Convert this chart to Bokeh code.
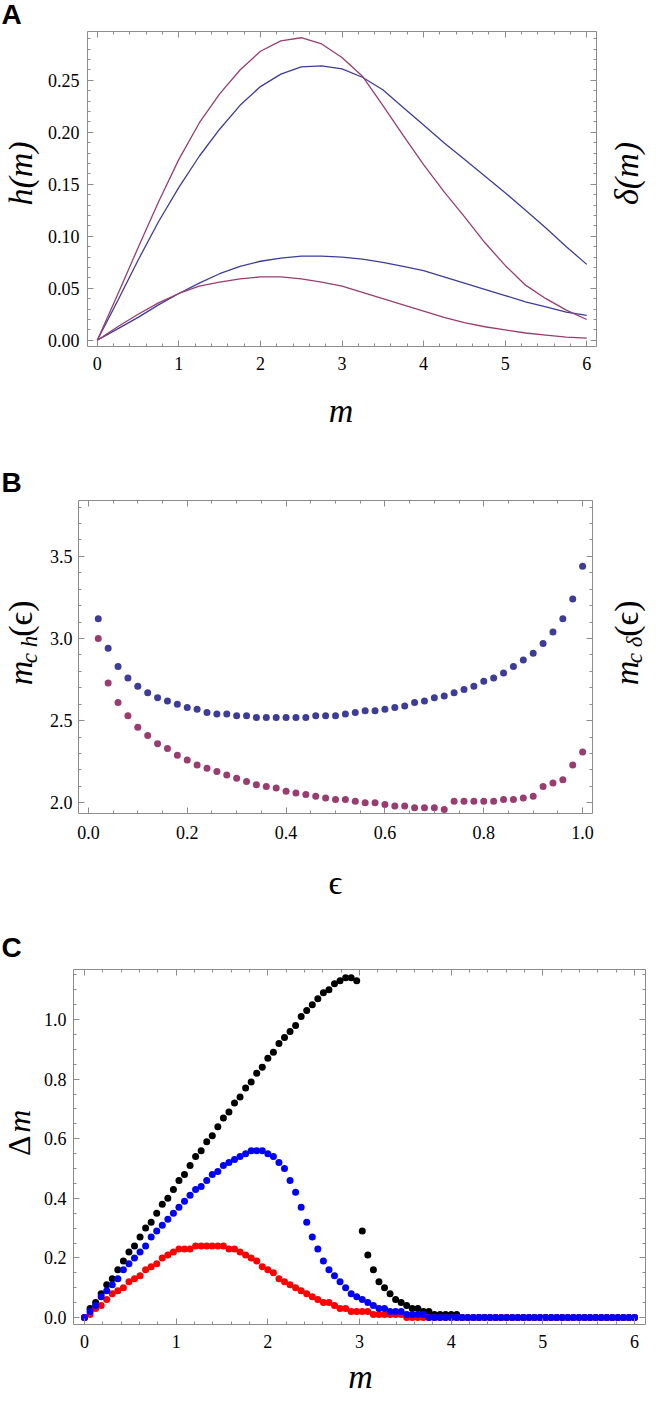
import numpy as np
from bokeh.plotting import figure
from bokeh.models import (Range1d, LinearAxis, FixedTicker,
                          NumeralTickFormatter, CustomJSTickFormatter)
from bokeh.layouts import column, row
from bokeh.core.properties import value
from bokeh.embed import file_html
from bokeh.resources import INLINE

SERIF = "Liberation Serif"
SANS = "Liberation Sans"
FRAME = "#8c8c8c"
TICK_PX = "18px"
BLUE_M = "#3d3d99"
PURPLE_M = "#993d71"

# ---------------- Panel A: h(m) and delta(m) curves ----------------
M_A = [0.0, 0.25, 0.5, 0.75, 1.0, 1.25, 1.5, 1.75, 2.0, 2.25, 2.5, 2.75, 3.0,
       3.25, 3.5, 3.75, 4.0, 4.25, 4.5, 4.75, 5.0, 5.25, 5.5, 5.75, 6.0]
A_PURPLE_HIGH = [0.000, 0.044, 0.089, 0.133, 0.174, 0.209, 0.237, 0.260, 0.278, 0.288,
                 0.291, 0.285, 0.272, 0.254, 0.226, 0.197, 0.169, 0.143, 0.119, 0.094,
                 0.072, 0.053, 0.040, 0.029, 0.020]
A_BLUE_HIGH = [0.000, 0.038, 0.077, 0.114, 0.147, 0.177, 0.203, 0.226, 0.244, 0.256,
               0.263, 0.264, 0.261, 0.253, 0.241, 0.224, 0.207, 0.190, 0.174, 0.158,
               0.142, 0.125, 0.108, 0.090, 0.073]
A_BLUE_LOW = [0.000, 0.011, 0.022, 0.034, 0.045, 0.055, 0.064, 0.071, 0.076, 0.079,
              0.081, 0.081, 0.080, 0.078, 0.075, 0.071, 0.067, 0.061, 0.055, 0.049,
              0.043, 0.037, 0.032, 0.027, 0.024]
A_PURPLE_LOW = [0.000, 0.013, 0.025, 0.036, 0.045, 0.052, 0.056, 0.059, 0.061, 0.061,
                0.059, 0.056, 0.052, 0.046, 0.040, 0.034, 0.028, 0.022, 0.017, 0.013,
                0.010, 0.007, 0.005, 0.003, 0.002]

# ---------------- Panel B: m_c(eps) ----------------
EPS = np.round(np.arange(1, 51) * 0.02, 2)
B_BLUE = [3.12, 2.94, 2.83, 2.76, 2.71, 2.67, 2.64, 2.62, 2.60, 2.58,
          2.57, 2.55, 2.54, 2.54, 2.53, 2.53, 2.52, 2.52, 2.52, 2.52,
          2.52, 2.52, 2.53, 2.53, 2.53, 2.54, 2.55, 2.56, 2.56, 2.57,
          2.58, 2.59, 2.61, 2.62, 2.64, 2.65, 2.67, 2.69, 2.71, 2.74,
          2.76, 2.79, 2.83, 2.87, 2.91, 2.97, 3.04, 3.12, 3.24, 3.44]
B_PURPLE = [3.00, 2.73, 2.61, 2.53, 2.46, 2.41, 2.36, 2.33, 2.29, 2.26,
            2.23, 2.21, 2.19, 2.17, 2.15, 2.13, 2.11, 2.10, 2.09, 2.07,
            2.06, 2.05, 2.04, 2.03, 2.02, 2.02, 2.01, 2.00, 2.00, 1.99,
            1.98, 1.98, 1.97, 1.97, 1.97, 1.96, 2.01, 2.01, 2.01, 2.01,
            2.01, 2.02, 2.02, 2.03, 2.04, 2.10, 2.12, 2.14, 2.23, 2.31]

# ---------------- Panel C: Delta m ----------------
M_C = np.linspace(0.0, 6.0, 100)
C_BLACK = [0.00, 0.03, 0.05, 0.08, 0.11, 0.13, 0.16, 0.19, 0.22, 0.24,
           0.27, 0.30, 0.32, 0.35, 0.38, 0.40, 0.43, 0.46, 0.48, 0.51,
           0.54, 0.56, 0.59, 0.61, 0.64, 0.67, 0.69, 0.72, 0.74, 0.77,
           0.79, 0.82, 0.84, 0.87, 0.89, 0.92, 0.94, 0.96, 0.98, 1.01,
           1.03, 1.05, 1.07, 1.09, 1.10, 1.12, 1.13, 1.14, 1.14, 1.13,
           0.29, 0.21, 0.16, 0.12, 0.10, 0.08, 0.06, 0.05, 0.04, 0.03,
           0.03, 0.02, 0.02, 0.01, 0.01, 0.01, 0.01, 0.01, 0.00, 0.00,
           0.00, 0.00, 0.00, 0.00, 0.00, 0.00, 0.00, 0.00, 0.00, 0.00,
           0.00, 0.00, 0.00, 0.00, 0.00, 0.00, 0.00, 0.00, 0.00, 0.00,
           0.00, 0.00, 0.00, 0.00, 0.00, 0.00, 0.00, 0.00, 0.00, 0.00]
C_BLUE = [0.00, 0.02, 0.04, 0.07, 0.09, 0.11, 0.13, 0.16, 0.18, 0.20,
          0.22, 0.24, 0.27, 0.29, 0.31, 0.33, 0.35, 0.37, 0.39, 0.41,
          0.43, 0.44, 0.46, 0.48, 0.49, 0.51, 0.52, 0.53, 0.54, 0.55,
          0.56, 0.56, 0.56, 0.55, 0.54, 0.52, 0.50, 0.46, 0.42, 0.37,
          0.32, 0.27, 0.23, 0.19, 0.16, 0.14, 0.12, 0.10, 0.08, 0.07,
          0.06, 0.05, 0.04, 0.03, 0.03, 0.02, 0.02, 0.02, 0.01, 0.01,
          0.01, 0.01, 0.00, 0.00, 0.00, 0.00, 0.00, 0.00, 0.00, 0.00,
          0.00, 0.00, 0.00, 0.00, 0.00, 0.00, 0.00, 0.00, 0.00, 0.00,
          0.00, 0.00, 0.00, 0.00, 0.00, 0.00, 0.00, 0.00, 0.00, 0.00,
          0.00, 0.00, 0.00, 0.00, 0.00, 0.00, 0.00, 0.00, 0.00, 0.00]
C_RED = [0.00, 0.01, 0.03, 0.04, 0.06, 0.08, 0.09, 0.10, 0.12, 0.13,
         0.14, 0.16, 0.17, 0.18, 0.20, 0.21, 0.22, 0.23, 0.23, 0.23,
         0.24, 0.24, 0.24, 0.24, 0.24, 0.24, 0.23, 0.23, 0.22, 0.21,
         0.20, 0.19, 0.17, 0.16, 0.15, 0.13, 0.12, 0.11, 0.10, 0.09,
         0.08, 0.07, 0.06, 0.05, 0.05, 0.04, 0.03, 0.03, 0.02, 0.02,
         0.02, 0.02, 0.01, 0.01, 0.01, 0.01, 0.01, 0.01, 0.00, 0.00,
         0.00, 0.00, 0.00, 0.00, 0.00, 0.00, 0.00, 0.00, 0.00, 0.00,
         0.00, 0.00, 0.00, 0.00, 0.00, 0.00, 0.00, 0.00, 0.00, 0.00,
         0.00, 0.00, 0.00, 0.00, 0.00, 0.00, 0.00, 0.00, 0.00, 0.00,
         0.00, 0.00, 0.00, 0.00, 0.00, 0.00, 0.00, 0.00, 0.00, 0.00]

# ---------------- ticks ----------------
A_XMAJ = [0, 1, 2, 3, 4, 5, 6]
A_XMIN = [round(0.2 * i, 1) for i in range(31) if i % 5]
A_YMAJ = [0.0, 0.05, 0.1, 0.15, 0.2, 0.25]
A_YMIN = [round(0.01 * i, 2) for i in range(30) if i % 5]
B_XMAJ = [0.0, 0.2, 0.4, 0.6, 0.8, 1.0]
B_XMIN = [round(0.05 * i, 2) for i in range(21) if i % 4]
B_YMAJ = [2.0, 2.5, 3.0, 3.5]
B_YMIN = [round(2.0 + 0.1 * i, 1) for i in range(1, 19) if i % 5]
C_XMAJ = A_XMAJ
C_XMIN = A_XMIN
C_YMAJ = [0.0, 0.2, 0.4, 0.6, 0.8, 1.0]
C_YMIN = [round(0.05 * i, 2) for i in range(24) if i % 4]


def style_axis(ax):
    ax.axis_line_color = None
    ax.major_tick_line_color = FRAME
    ax.minor_tick_line_color = FRAME
    ax.major_tick_in = 6
    ax.major_tick_out = 0
    ax.minor_tick_in = 3
    ax.minor_tick_out = 0
    ax.major_label_text_font = SERIF
    ax.major_label_text_font_size = TICK_PX
    ax.major_label_text_color = "black"


def make_fig(xr, yr, w, h, left, right, top, bottom):
    p = figure(width=w, height=h, x_range=Range1d(*xr), y_range=Range1d(*yr),
               output_backend="svg", toolbar_location=None,
               min_border_left=left, min_border_right=right,
               min_border_top=top, min_border_bottom=bottom)
    p.title.visible = False
    p.grid.visible = False
    p.outline_line_color = FRAME
    p.outline_line_width = 1
    p.background_fill_color = "white"
    p.border_fill_color = "white"
    return p


def frame_axes(p, xmaj, xmin, ymaj, ymin, xfmt, yfmt, xst, yst):
    xa = p.xaxis[0]
    ya = p.yaxis[0]
    for ax, maj, mnr, fmt, st in ((xa, xmaj, xmin, xfmt, xst), (ya, ymaj, ymin, yfmt, yst)):
        ax.ticker = FixedTicker(ticks=maj, minor_ticks=mnr)
        ax.formatter = NumeralTickFormatter(format=fmt)
        style_axis(ax)
        ax.major_label_standoff = st
    blank = "return ''"
    top = LinearAxis(ticker=FixedTicker(ticks=xmaj, minor_ticks=xmin),
                     formatter=CustomJSTickFormatter(code=blank))
    right = LinearAxis(ticker=FixedTicker(ticks=ymaj, minor_ticks=ymin),
                       formatter=CustomJSTickFormatter(code=blank))
    for ax in (top, right):
        style_axis(ax)
        ax.major_label_standoff = 0
        ax.major_label_text_font_size = "1px"
    p.add_layout(top, "above")
    p.add_layout(right, "right")


def strip(w, h):
    s = figure(width=w, height=h, x_range=Range1d(0, w), y_range=Range1d(0, h),
               output_backend="svg", toolbar_location=None, min_border=0,
               x_axis_location=None, y_axis_location=None)
    s.title.visible = False
    s.grid.visible = False
    s.outline_line_color = None
    s.background_fill_color = "white"
    s.border_fill_color = "white"
    return s


def txt(s, x, y, t, size, font=SERIF, style="normal", angle=0.0,
        align="center", baseline="middle"):
    s.text(x=[x], y=[y], text=[t], angle=angle, text_font=value(font),
           text_font_size=f"{size}px", text_font_style=style,
           text_align=align, text_baseline=baseline, text_color="black")


def vcomp(s, xc, yc, pieces):
    """Vertical (reading upward) label made of pieces: (text, size, style, length, dx)."""
    total = sum(pc[3] for pc in pieces)
    y = yc - total / 2.0
    for t, size, style, length, dx in pieces:
        txt(s, xc + dx, y, t, size, style=style, angle=np.pi / 2,
            align="left", baseline="middle")
        y += length


W = 648
RW = 44  # right text strip width (rows A and B)

# ================= Panel A =================
LA, HA = 44, 355
aT = strip(W, 29)
txt(aT, 1, 15.5, "A", 28, font=SANS, style="bold", align="left")
pA = make_fig((-0.12, 6.12), (-0.006, 0.297), W - LA - RW, HA, 41, 8, 2, 38)
frame_axes(pA, A_XMAJ, A_XMIN, A_YMAJ, A_YMIN, "0", "0.00", 10, 8)
pA.line(M_A, A_BLUE_HIGH, line_color=BLUE_M, line_width=1.3)
pA.line(M_A, A_BLUE_LOW, line_color=BLUE_M, line_width=1.3)
pA.line(M_A, A_PURPLE_HIGH, line_color=PURPLE_M, line_width=1.3)
pA.line(M_A, A_PURPLE_LOW, line_color=PURPLE_M, line_width=1.3)
aL = strip(LA, HA)
txt(aL, 20, 195, "h(m)", 34, style="italic", angle=np.pi / 2)
aR = strip(RW, HA)
txt(aR, 22, 195, "\u03b4(m)", 34, style="italic", angle=np.pi / 2)
aB = strip(W, 73)
txt(aB, 340.5, 47, "m", 34, style="italic")

# ================= Panel B =================
LB, HB = 46, 355
bT = strip(W, 41)
txt(bT, 1, 16, "B", 28, font=SANS, style="bold", align="left")
pB = make_fig((-0.02, 1.02), (1.935, 3.84), W - LB - RW, HB, 32, 12, 2, 40)
frame_axes(pB, B_XMAJ, B_XMIN, B_YMAJ, B_YMIN, "0.0", "0.0", 12, 6)
pB.scatter(EPS, B_BLUE, size=7, marker="circle", fill_color=BLUE_M, line_color=None)
pB.scatter(EPS, B_PURPLE, size=7, marker="circle", fill_color=PURPLE_M, line_color=None)
bL = strip(LB, HB)
vcomp(bL, 20, 193, [("m", 34, "italic", 25, 0), ("c h", 23, "italic", 30, 9),
                    ("(\u03f5)", 34, "normal", 40, 0)])
bR = strip(RW, HB)
vcomp(bR, 22, 193, [("m", 34, "italic", 25, 0), ("c \u03b4", 23, "italic", 30, 8),
                    ("(\u03f5)", 34, "normal", 40, 0)])
bB = strip(W, 69)
txt(bB, 335, 40, "\u03f5", 34)

# ================= Panel C =================
LC, HC = 40, 389
cT = strip(W, 45)
txt(cT, 1, 20, "C", 28, font=SANS, style="bold", align="left")
pC = make_fig((-0.12, 6.12), (-0.0235, 1.168), W - LC, HC, 33, 3, 2, 32)
frame_axes(pC, C_XMAJ, C_XMIN, C_YMAJ, C_YMIN, "0", "0.0", 10, 7)
pC.scatter(M_C, C_BLACK, size=7, marker="circle", fill_color="black", line_color=None)
pC.scatter(M_C, C_RED, size=7, marker="circle", fill_color="#ff0000", line_color=None)
pC.scatter(M_C, C_BLUE, size=7, marker="circle", fill_color="#0000ff", line_color=None)
cL = strip(LC, HC)
txt(cL, 18, 184.75, "\u0394", 32, angle=np.pi / 2, align="left")
txt(cL, 18, 210.25, "m", 32, style="italic", angle=np.pi / 2, align="left")
cB = strip(W, 39)
txt(cB, 360, 1, "m", 34, style="italic", baseline="bottom")

layout = column(aT, row(aL, pA, aR), aB,
                bT, row(bL, pB, bR), bB,
                cT, row(cL, pC), cB)
open("out.html", "w").write(file_html(layout, INLINE))
